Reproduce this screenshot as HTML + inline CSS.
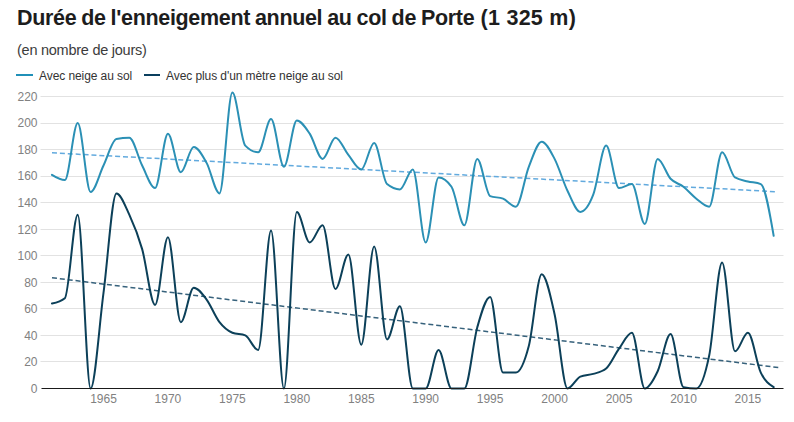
<!DOCTYPE html>
<html><head><meta charset="utf-8"><style>
html,body{margin:0;padding:0;background:#fff;width:794px;height:422px;overflow:hidden;}
body{position:relative;font-family:"Liberation Sans",sans-serif;}
.t{position:absolute;top:6.2px;font-size:21.5px;font-weight:bold;color:#1d1d1d;white-space:nowrap;}
.s{position:absolute;left:17px;top:41.5px;letter-spacing:-0.25px;font-size:14.5px;color:#3c3c3c;white-space:nowrap;}
.lg{position:absolute;top:69px;letter-spacing:-0.08px;font-size:12px;color:#333;white-space:nowrap;}
.sw{position:absolute;top:74px;height:2px;width:16px;}
svg{position:absolute;left:0;top:0;}
.yl{font-family:"Liberation Sans",sans-serif;font-size:12px;fill:#818181;text-anchor:end;}
.xl{font-family:"Liberation Sans",sans-serif;font-size:12px;fill:#818181;text-anchor:middle;}
</style></head><body>
<div class="t" style="left:17px;letter-spacing:-0.33px;word-spacing:-0.7px">Durée de l'enneigement annuel au col de Porte</div>
<div class="t" style="left:480.5px;letter-spacing:0.27px">(1 325 m)</div>
<div class="s">(en nombre de jours)</div>
<div class="sw" style="left:16.2px;width:16.5px;background:#2090b8"></div>
<div class="lg" style="left:39px">Avec neige au sol</div>
<div class="sw" style="left:144px;background:#0a3f5e"></div>
<div class="lg" style="left:166px">Avec plus d'un mètre neige au sol</div>
<svg width="794" height="422" viewBox="0 0 794 422">
<line x1="40.5" y1="361.5" x2="783.5" y2="361.5" stroke="#e2e2e2" stroke-width="1"/>
<line x1="40.5" y1="335.5" x2="783.5" y2="335.5" stroke="#e2e2e2" stroke-width="1"/>
<line x1="40.5" y1="308.5" x2="783.5" y2="308.5" stroke="#e2e2e2" stroke-width="1"/>
<line x1="40.5" y1="282.5" x2="783.5" y2="282.5" stroke="#e2e2e2" stroke-width="1"/>
<line x1="40.5" y1="255.5" x2="783.5" y2="255.5" stroke="#e2e2e2" stroke-width="1"/>
<line x1="40.5" y1="229.5" x2="783.5" y2="229.5" stroke="#e2e2e2" stroke-width="1"/>
<line x1="40.5" y1="202.5" x2="783.5" y2="202.5" stroke="#e2e2e2" stroke-width="1"/>
<line x1="40.5" y1="176.5" x2="783.5" y2="176.5" stroke="#e2e2e2" stroke-width="1"/>
<line x1="40.5" y1="149.5" x2="783.5" y2="149.5" stroke="#e2e2e2" stroke-width="1"/>
<line x1="40.5" y1="123.5" x2="783.5" y2="123.5" stroke="#e2e2e2" stroke-width="1"/>
<line x1="40.5" y1="96.5" x2="783.5" y2="96.5" stroke="#e2e2e2" stroke-width="1"/>
<text x="37.5" y="392.8" class="yl">0</text>
<text x="37.5" y="366.3" class="yl">20</text>
<text x="37.5" y="339.7" class="yl">40</text>
<text x="37.5" y="313.2" class="yl">60</text>
<text x="37.5" y="286.6" class="yl">80</text>
<text x="37.5" y="260.1" class="yl">100</text>
<text x="37.5" y="233.5" class="yl">120</text>
<text x="37.5" y="207.0" class="yl">140</text>
<text x="37.5" y="180.4" class="yl">160</text>
<text x="37.5" y="153.9" class="yl">180</text>
<text x="37.5" y="127.3" class="yl">200</text>
<text x="37.5" y="100.8" class="yl">220</text>
<text x="103.5" y="402.8" class="xl">1965</text>
<text x="167.9" y="402.8" class="xl">1970</text>
<text x="232.4" y="402.8" class="xl">1975</text>
<text x="296.8" y="402.8" class="xl">1980</text>
<text x="361.3" y="402.8" class="xl">1985</text>
<text x="425.7" y="402.8" class="xl">1990</text>
<text x="490.1" y="402.8" class="xl">1995</text>
<text x="554.6" y="402.8" class="xl">2000</text>
<text x="619.0" y="402.8" class="xl">2005</text>
<text x="683.5" y="402.8" class="xl">2010</text>
<text x="747.9" y="402.8" class="xl">2015</text>
<line x1="52" y1="152.85" x2="777.5" y2="191.8" stroke="#62aade" stroke-width="1.5" stroke-dasharray="5,2.9"/>
<line x1="52" y1="277.7" x2="778.8" y2="367.6" stroke="#37627c" stroke-width="1.5" stroke-dasharray="5,2.9"/>
<path d="M51.95,174.81C56.24,177.46,60.54,180.12,64.84,180.12C69.13,180.12,73.43,123.05,77.72,123.05C82.02,123.05,86.32,192.06,90.61,192.06C94.91,192.06,99.20,174.37,103.50,165.52C107.80,156.67,112.09,139.86,116.39,138.97C120.68,138.09,124.98,137.65,129.28,137.65C133.57,137.65,137.87,157.11,142.16,165.52C146.46,173.92,150.76,188.08,155.05,188.08C159.35,188.08,163.64,133.66,167.94,133.66C172.24,133.66,176.53,172.15,180.83,172.15C185.12,172.15,189.42,146.94,193.72,146.94C198.01,146.94,202.31,155.12,206.60,162.86C210.90,170.61,215.20,193.39,219.49,193.39C223.79,193.39,228.08,92.52,232.38,92.52C236.68,92.52,240.97,141.19,245.27,145.61C249.56,150.03,253.86,152.25,258.16,152.25C262.45,152.25,266.75,119.06,271.04,119.06C275.34,119.06,279.64,166.85,283.93,166.85C288.23,166.85,292.52,120.39,296.82,120.39C301.12,120.39,305.41,127.25,309.71,133.66C314.00,140.08,318.30,158.88,322.60,158.88C326.89,158.88,331.19,137.65,335.48,137.65C339.78,137.65,344.08,149.59,348.37,154.90C352.67,160.21,356.96,169.50,361.26,169.50C365.56,169.50,369.85,142.96,374.15,142.96C378.44,142.96,382.74,180.56,387.04,184.10C391.33,187.64,395.63,189.41,399.92,189.41C404.22,189.41,408.52,169.50,412.81,169.50C417.11,169.50,421.40,242.50,425.70,242.50C430.00,242.50,434.29,177.46,438.59,177.46C442.88,177.46,447.18,180.56,451.48,186.75C455.77,192.95,460.07,225.25,464.36,225.25C468.66,225.25,472.96,158.88,477.25,158.88C481.55,158.88,485.84,194.28,490.14,196.05C494.44,197.82,498.73,196.93,503.03,198.70C507.32,200.47,511.62,206.66,515.92,206.66C520.21,206.66,524.51,177.69,528.80,166.85C533.10,156.01,537.40,141.63,541.69,141.63C545.99,141.63,550.28,150.70,554.58,158.88C558.88,167.07,563.17,181.89,567.47,190.74C571.76,199.59,576.06,211.97,580.36,211.97C584.65,211.97,588.95,205.78,593.24,194.72C597.54,183.66,601.84,145.61,606.13,145.61C610.43,145.61,614.72,188.08,619.02,188.08C623.32,188.08,627.61,184.10,631.91,184.10C636.20,184.10,640.50,223.92,644.80,223.92C649.09,223.92,653.39,158.88,657.68,158.88C661.98,158.88,666.28,174.15,670.57,178.79C674.87,183.44,679.16,183.44,683.46,186.75C687.76,190.07,692.05,195.38,696.35,198.70C700.64,202.02,704.94,206.66,709.24,206.66C713.53,206.66,717.83,152.25,722.12,152.25C726.42,152.25,730.72,174.81,735.01,177.46C739.31,180.12,743.60,180.34,747.90,181.45C752.20,182.55,756.49,182.33,760.79,184.10C765.08,185.87,769.38,210.87,773.68,235.86" fill="none" stroke="#2b90b5" stroke-width="2" stroke-linejoin="round" stroke-linecap="round"/>
<path d="M51.95,303.55C56.24,302.67,60.54,301.79,64.84,298.25C69.13,294.71,73.43,214.63,77.72,214.63C82.02,214.63,86.32,388.50,90.61,388.50C94.91,388.50,99.20,325.45,103.50,292.94C107.80,260.42,112.09,193.39,116.39,193.39C120.68,193.39,124.98,205.34,129.28,214.63C133.57,223.92,137.87,234.09,142.16,249.14C146.46,264.18,150.76,304.88,155.05,304.88C159.35,304.88,163.64,237.19,167.94,237.19C172.24,237.19,176.53,322.14,180.83,322.14C185.12,322.14,189.42,287.63,193.72,287.63C198.01,287.63,202.31,293.82,206.60,299.57C210.90,305.32,215.20,316.61,219.49,322.14C223.79,327.67,228.08,330.98,232.38,332.75C236.68,334.52,240.97,333.64,245.27,335.41C249.56,337.18,253.86,350.01,258.16,350.01C262.45,350.01,266.75,230.55,271.04,230.55C275.34,230.55,279.64,388.50,283.93,388.50C288.23,388.50,292.52,211.97,296.82,211.97C301.12,211.97,305.41,242.50,309.71,242.50C314.00,242.50,318.30,225.25,322.60,225.25C326.89,225.25,331.19,288.95,335.48,288.95C339.78,288.95,344.08,254.45,348.37,254.45C352.67,254.45,356.96,344.70,361.26,344.70C365.56,344.70,369.85,246.48,374.15,246.48C378.44,246.48,382.74,339.39,387.04,339.39C391.33,339.39,395.63,306.21,399.92,306.21C404.22,306.21,408.52,388.50,412.81,388.50C417.11,388.50,421.40,388.50,425.70,388.50C430.00,388.50,434.29,350.01,438.59,350.01C442.88,350.01,447.18,388.50,451.48,388.50C455.77,388.50,460.07,388.50,464.36,388.50C468.66,388.50,472.96,342.71,477.25,327.45C481.55,312.18,485.84,296.92,490.14,296.92C494.44,296.92,498.73,372.57,503.03,372.57C507.32,372.57,511.62,372.57,515.92,372.57C520.21,372.57,524.51,362.40,528.80,346.03C533.10,329.66,537.40,274.35,541.69,274.35C545.99,274.35,550.28,295.15,554.58,314.17C558.88,333.20,563.17,388.50,567.47,388.50C571.76,388.50,576.06,378.32,580.36,376.55C584.65,374.78,588.95,375.23,593.24,373.90C597.54,372.57,601.84,372.13,606.13,368.59C610.43,365.05,614.72,354.65,619.02,348.68C623.32,342.71,627.61,332.75,631.91,332.75C636.20,332.75,640.50,388.50,644.80,388.50C649.09,388.50,653.39,380.32,657.68,371.25C661.98,362.18,666.28,334.08,670.57,334.08C674.87,334.08,679.16,386.29,683.46,387.17C687.76,388.06,692.05,388.50,696.35,388.50C700.64,388.50,704.94,376.33,709.24,355.32C713.53,334.30,717.83,262.41,722.12,262.41C726.42,262.41,730.72,351.34,735.01,351.34C739.31,351.34,743.60,332.75,747.90,332.75C752.20,332.75,756.49,363.50,760.79,372.57C765.08,381.64,769.38,384.41,773.68,387.17" fill="none" stroke="#0c4059" stroke-width="2" stroke-linejoin="round" stroke-linecap="round"/>
<line x1="41.5" y1="388.5" x2="783.5" y2="388.5" stroke="#1a1a1a" stroke-width="1.2"/>
</svg>
</body></html>
